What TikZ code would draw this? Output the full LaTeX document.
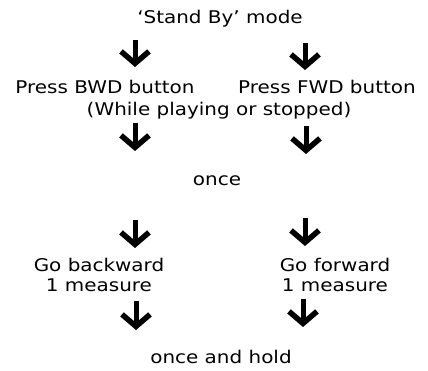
\documentclass[tikz,border=0pt]{standalone}
\usepackage{fontspec}
\setmainfont[FakeStretch=1.14]{DejaVu Sans}
\usetikzlibrary{arrows.meta}
\begin{document}
\begin{tikzpicture}[x=1pt,y=-1pt,
  lbl/.style={inner sep=0pt,font=\fontsize{17.5}{20}\selectfont,align=center},
  bigarrow/.style={line width=5pt,-{Straight Barb[length=12pt,width=28pt,line width=5.5pt]}}]
\useasboundingbox (0,0) rectangle (428,370);
\node[lbl] (stand) at (220,19) {‘Stand By’ mode};
\node[lbl] (bwd) at (105,87) {Press BWD button};
\node[lbl] (fwd) at (327,87) {Press FWD button};
\node[lbl] (while) at (219,111) {(While playing or stopped)};
\node[lbl] (once) at (217,181) {once};
\node[lbl] (gob) at (99,275) {Go backward\\1 measure};
\node[lbl] (gof) at (335,275) {Go forward\\1 measure};
\node[lbl] (hold) at (221,357) {once and hold};
\coordinate (a1s) at (135,40);  \coordinate (a1e) at (135,67);
\coordinate (a2s) at (305,43);  \coordinate (a2e) at (305,70);
\coordinate (a3s) at (135,123); \coordinate (a3e) at (135,151);
\coordinate (a4s) at (306,126); \coordinate (a4e) at (306,154);
\coordinate (a5s) at (135,220); \coordinate (a5e) at (135,248);
\coordinate (a6s) at (305,218); \coordinate (a6e) at (305,246);
\coordinate (a7s) at (136,301); \coordinate (a7e) at (136,330);
\coordinate (a8s) at (303,299); \coordinate (a8e) at (303,327);
\foreach \i in {1,...,8} \draw[bigarrow] (a\i s) -- (a\i e);
\end{tikzpicture}
\end{document}
